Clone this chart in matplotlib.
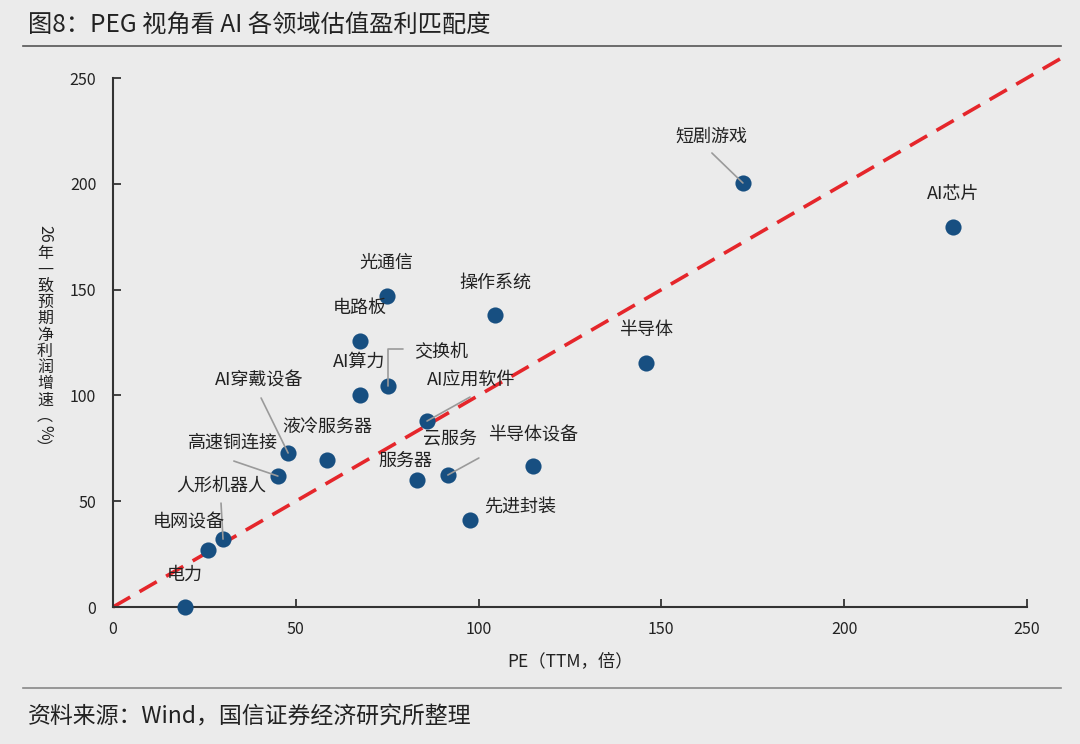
import matplotlib
matplotlib.use('Agg')
import matplotlib.pyplot as plt

plt.rcParams['font.family'] = ['Noto Sans CJK SC', 'DejaVu Sans']

# 各领域 PE(TTM) 与 26年一致预期净利润增速
sectors = ['电力', '电网设备', '人形机器人', '高速铜连接', 'AI穿戴设备', '液冷服务器',
           '电路板', 'AI算力', '光通信', '交换机', 'AI应用软件', '服务器', '云服务',
           '先进封装', '操作系统', '半导体设备', '半导体', '短剧游戏', 'AI芯片']
pe = [19.7, 26.0, 30.1, 45.1, 47.9, 58.5, 67.6, 67.6, 74.9, 75.2, 85.9, 83.2, 91.6,
      97.6, 104.5, 114.9, 145.8, 172.3, 229.8]
growth = [0.0, 26.9, 32.1, 61.9, 72.8, 69.5, 125.7, 100.2, 147.0, 104.4, 87.9, 60.0,
          62.4, 41.1, 138.0, 66.6, 115.3, 200.4, 179.6]
peg_line = [0, 260]

# label offsets (pixels) from each point
label_off = {
    '电力': (0, 32), '电网设备': (-19, 28), '人形机器人': (-2, 53), '高速铜连接': (-45, 33),
    'AI穿戴设备': (-29, 72), '液冷服务器': (0, 33), '电路板': (0, 33), 'AI算力': (-1, 33),
    '光通信': (0, 33), '交换机': (53, 34), 'AI应用软件': (44, 41), '服务器': (-12, 19),
    '云服务': (2, 37), '先进封装': (50, 13), '操作系统': (0, 32), '半导体设备': (0, 31),
    '半导体': (0, 33), '短剧游戏': (-32, 46), 'AI芯片': (0, 33),
}
# leader line starts (pixels from point)
leaders = {
    'AI穿戴设备': (-27, 55), '高速铜连接': (-44, 15), '人形机器人': (-2, 36),
    '交换机': (15, 37), 'AI应用软件': (43, 24), '云服务': (31, 17), '短剧游戏': (-31, 30),
}

# vertical y-axis title, one piece per row (text, rotated?)
ylabel_parts = [('26', True), ('年', False), ('一', False), ('致', False), ('预', False),
                ('期', False), ('净', False), ('利', False), ('润', False), ('增', False),
                ('速', False), ('︵', False), ('%', True), ('︶', False)]

bg = '#ebebeb'
fig = plt.figure(figsize=(10.8, 7.44), dpi=100, facecolor=bg)
ax = fig.add_axes([0.1046, 0.1841, 0.8463, 0.7110])
ax.set_facecolor(bg)

ax.plot(peg_line, peg_line, color='#e5262b', lw=2.6, dashes=(5.5, 3), clip_on=False, zorder=2)

for name, x, y in zip(sectors, pe, growth):
    if name in leaders:
        cs = 'angle,angleA=0,angleB=90,rad=0' if name == '交换机' else 'arc3'
        ax.annotate('', xy=(x, y), xytext=leaders[name], textcoords='offset pixels',
                    arrowprops=dict(arrowstyle='-', color='#9a9a9a', lw=1.2,
                                    shrinkA=0, shrinkB=0, connectionstyle=cs),
                    zorder=4)
    ax.annotate(name, xy=(x, y), xytext=label_off[name], textcoords='offset pixels',
                ha='center', va='center', fontsize=13, color='#222222', zorder=5)

ax.scatter(pe, growth, s=135, color='#174f81', zorder=3, clip_on=False, linewidths=0)

ax.set_xlim(0, 250)
ax.set_ylim(0, 250)
ax.set_xticks(range(0, 251, 50))
ax.set_yticks(range(0, 251, 50))
for s in ['top', 'right']:
    ax.spines[s].set_visible(False)
for s in ['left', 'bottom']:
    ax.spines[s].set_color('#333333')
    ax.spines[s].set_linewidth(1.5)
ax.tick_params(direction='in', length=6, width=1.3, colors='#333333', labelsize=11.5,
               labelcolor='#222222')
ax.tick_params(axis='x', pad=10)
ax.tick_params(axis='y', pad=12)

ax.set_xlabel('PE（TTM，倍）', fontsize=12.5, color='#222222', labelpad=10)

# stacked vertical y label
ypix = 234
for i, (txt, rot) in enumerate(ylabel_parts):
    fig.text(45 / 1080, 1 - ypix / 744, txt, fontsize=11.5, color='#222222',
             rotation=270 if rot else 0, ha='center', va='center')
    ypix += 20 if i == 0 else 16.2

fig.text(0.026, 0.966, '图8：PEG 视角看 AI 各领域估值盈利匹配度', fontsize=17.5,
         color='#222222', va='center', ha='left')
fig.add_artist(plt.Line2D([0.021, 0.982], [0.938, 0.938], color='#555555', lw=1.2))
fig.add_artist(plt.Line2D([0.021, 0.982], [0.075, 0.075], color='#888888', lw=1.2))
fig.text(0.026, 0.037, '资料来源：Wind，国信证券经济研究所整理', fontsize=16.5,
         color='#222222', va='center', ha='left')

fig.savefig('out.png', dpi=100, facecolor=bg)
